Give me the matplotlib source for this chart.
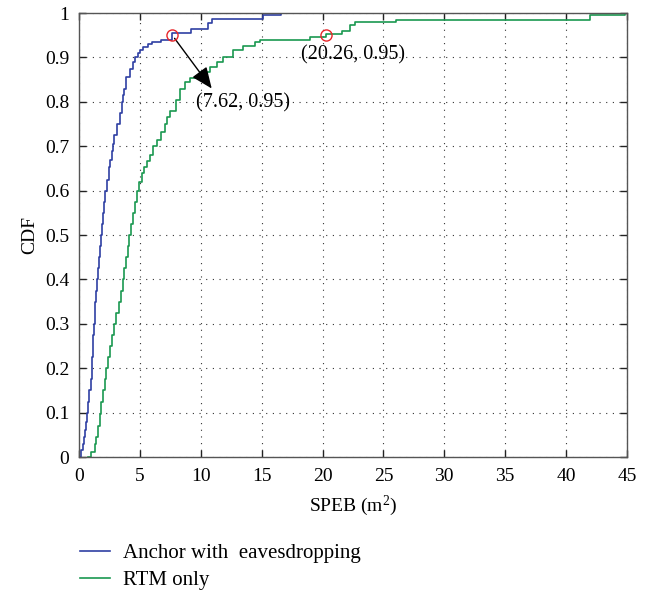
import matplotlib
matplotlib.use("Agg")
import matplotlib.pyplot as plt

plt.rcParams['font.family'] = ['Liberation Serif', 'DejaVu Serif']
plt.rcParams['mathtext.default'] = 'regular'

# Anchor with eavesdropping: step corners (SPEB, CDF)
blue_x = [0.0, 0.15, 0.3, 0.4, 0.5, 0.6, 0.68, 0.75, 0.85, 0.95, 1.04, 1.08, 1.12, 1.18,
          1.25, 1.3, 1.35, 1.42, 1.5, 1.58, 1.65, 1.72, 1.78, 1.87, 1.95, 2.05, 2.16,
          2.33, 2.46, 2.58, 2.7, 2.8, 2.9, 3.1, 3.37, 3.5, 3.6, 3.7, 3.9, 4.2, 4.46, 4.6,
          4.87, 5.05, 5.28, 5.67, 5.97, 6.7, 7.62, 9.17, 10.6, 10.9, 15.1, 16.6]
blue_y = [0.0, 0.015, 0.03, 0.045, 0.06, 0.08, 0.10, 0.125, 0.15, 0.175, 0.20, 0.225, 0.25, 0.275,
          0.30, 0.325, 0.35, 0.375, 0.40, 0.425, 0.45, 0.475, 0.50, 0.525, 0.55, 0.575, 0.60,
          0.625, 0.654, 0.67, 0.69, 0.705, 0.725, 0.75, 0.775, 0.80, 0.815, 0.83, 0.857, 0.875, 0.89, 0.90,
          0.909, 0.916, 0.924, 0.93, 0.935, 0.939, 0.954, 0.965, 0.978, 0.986, 0.9955, 1.0]

# RTM only
green_x = [0.71, 0.96, 1.31, 1.4, 1.55, 1.72, 1.82, 1.95, 2.1, 2.22, 2.4, 2.55, 2.72, 2.9,
           3.08, 3.25, 3.42, 3.58, 3.72, 3.85, 4.0, 4.13, 4.3, 4.45, 4.6, 4.73, 4.95, 5.15,
           5.34, 5.55, 5.8, 6.1, 6.43, 6.75, 7.06, 7.25, 7.47, 8.0, 8.3, 8.7, 9.1,
           9.9, 10.75, 11.3, 11.85, 12.67, 13.5, 14.45, 14.86, 18.97, 20.26, 21.56, 22.25,
           22.66, 26.0, 42.0, 44.8]
green_y = [0.0, 0.012, 0.03, 0.046, 0.07, 0.098, 0.125, 0.15, 0.175, 0.20, 0.225, 0.25, 0.275, 0.30,
           0.325, 0.35, 0.375, 0.40, 0.425, 0.45, 0.475, 0.50, 0.525, 0.55, 0.575, 0.60, 0.62, 0.64,
           0.654, 0.667, 0.68, 0.70, 0.714, 0.733, 0.751, 0.765, 0.78, 0.804, 0.83, 0.845, 0.853,
           0.868, 0.879, 0.89, 0.902, 0.917, 0.926, 0.935, 0.939, 0.945, 0.953, 0.959, 0.973,
           0.98, 0.9835, 0.9955, 1.0]

marks_x = [7.62, 20.26]
marks_y = [0.95, 0.95]
mark_labels = ['(7.62, 0.95)', '(20.26, 0.95)']

xticks = list(range(0, 50, 5))
yticks = [0, 0.1, 0.2, 0.3, 0.4, 0.5, 0.6, 0.7, 0.8, 0.9, 1]
ytick_labels = ['0', '0.1', '0.2', '0.3', '0.4', '0.5', '0.6', '0.7', '0.8', '0.9', '1']

fig = plt.figure(figsize=(6.57, 5.92), dpi=100)
ax = fig.add_axes([0.1202, 0.228, 0.8341, 0.750])

l1, = ax.plot(blue_x, blue_y, drawstyle='steps-post', color='#2f3fa3', lw=1.2,
              label='Anchor with  eavesdropping')
l2, = ax.plot(green_x, green_y, drawstyle='steps-post', color='#1a9850', lw=1.2,
              label='RTM only')
ax.plot(marks_x, marks_y, 'o', mfc='none', mec='#e8262a', ms=8, mew=1.0, zorder=5)

ax.annotate('', xy=(10.9, 0.83), xytext=(7.85, 0.943),
            arrowprops=dict(arrowstyle='-|>,head_length=1.3,head_width=0.55',
                            color='black', lw=1.0, shrinkA=0, shrinkB=0))
ax.text(9.6, 0.797, mark_labels[0], fontsize=14.5, va='center', ha='left')
ax.text(18.2, 0.905, mark_labels[1], fontsize=14.5, va='center', ha='left')

ax.set_xlim(0, 45)
ax.set_ylim(0, 1)
ax.set_xticks(xticks)
ax.set_yticks(yticks)
ax.set_yticklabels(ytick_labels)
ax.tick_params(direction='in', top=True, right=True, length=5, width=1,
               labelsize=14, color='#222222')
ax.tick_params(axis='x', pad=8)
ax.tick_params(axis='y', pad=7)
ax.grid(True, linestyle=(0, (1, 5)), color='#333333', lw=0.8)
for s in ax.spines.values():
    s.set_color('#555555')
    s.set_linewidth(1.0)

ax.set_xlabel('SPEB (m$^{2}$)', fontsize=14, labelpad=6)
ax.set_ylabel('CDF', fontsize=14, labelpad=5)

fig.legend(handles=[l1, l2], loc='upper left', bbox_to_anchor=(0.1092, 0.0963),
           frameon=False, fontsize=15, handlelength=1.45, handletextpad=0.62,
           labelspacing=0.37, borderaxespad=0)

fig.savefig('out.png', dpi=100)
